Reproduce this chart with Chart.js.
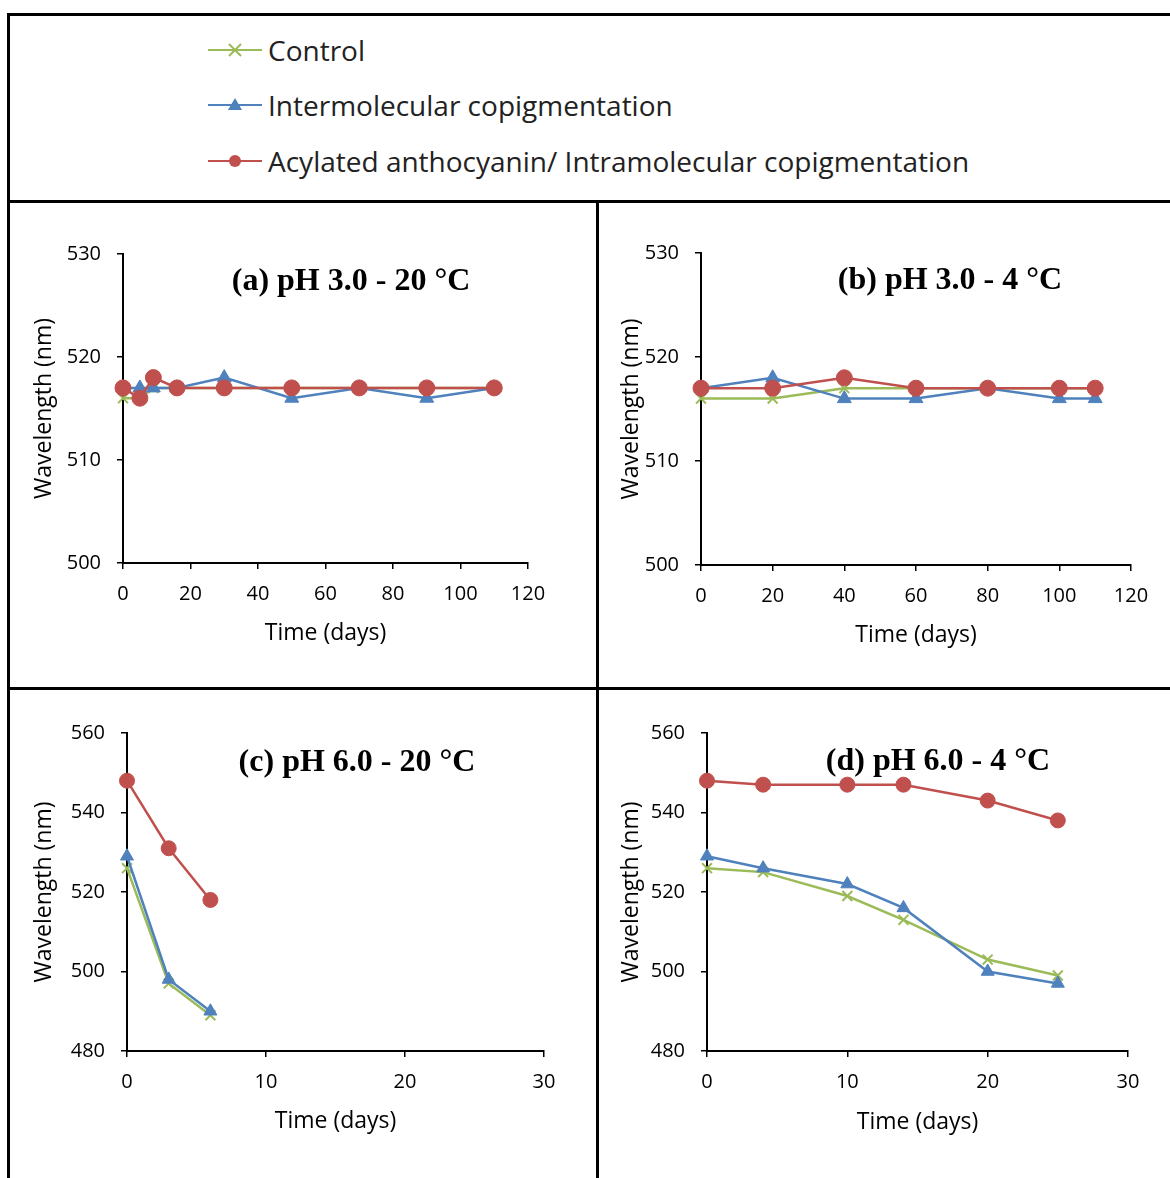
<!DOCTYPE html>
<html lang="en">
<head>
<meta charset="UTF-8">
<title>Wavelength vs time</title>
<script src="https://cdn.jsdelivr.net/npm/chart.js@4.4.1/dist/chart.umd.min.js"></script>
<style>
    body { margin: 0; background: #fff; width: 1170px; height: 1178px; overflow: hidden; position: relative; font-family: "Open Sans", sans-serif; }
    .line { position: absolute; background: #000; }
    .panel { position: absolute; }
    .legend-row { position: absolute; left: 208px; height: 40px; display: flex; align-items: center; font-size: 28px; color: #222; white-space: nowrap; }
    .legend-row svg { margin-right: 4px; }
</style>
</head>
<body>

<!-- frame lines -->
<div class="line" style="left:8px; top:13px; width:1162px; height:3px;"></div>
<div class="line" style="left:8px; top:200px; width:1162px; height:3px;"></div>
<div class="line" style="left:7px; top:13px; width:3px; height:1165px;"></div>
<div class="line" style="left:596px; top:200px; width:3px; height:978px;"></div>
<div class="line" style="left:8px; top:687px; width:1162px; height:3px;"></div>

<!-- legend -->
<div class="legend-row" style="top:30px;">
    <svg width="56" height="20"><line x1="0" y1="10" x2="54" y2="10" stroke="#9BBB59" stroke-width="2"/>
        <path d="M21 4 L33 16 M33 4 L21 16" stroke="#9BBB59" stroke-width="2"/></svg>Control
</div>
<div class="legend-row" style="top:85px;">
    <svg width="56" height="20"><line x1="0" y1="10" x2="54" y2="10" stroke="#4F81BD" stroke-width="2"/>
        <path d="M27 3 L34 15 L20 15 Z" fill="#4F81BD"/></svg>Intermolecular copigmentation
</div>
<div class="legend-row" style="top:141px;">
    <svg width="56" height="20"><line x1="0" y1="10" x2="54" y2="10" stroke="#C0504D" stroke-width="2"/>
        <circle cx="27" cy="10" r="6" fill="#C0504D"/></svg>Acylated anthocyanin/ Intramolecular copigmentation
</div>

<div class="panel" style="left:10px; top:203px;"><canvas id="chartA" width="586" height="485"></canvas></div>
<div class="panel" style="left:599px; top:203px;"><canvas id="chartB" width="571" height="485"></canvas></div>
<div class="panel" style="left:10px; top:690px;"><canvas id="chartC" width="586" height="488"></canvas></div>
<div class="panel" style="left:599px; top:690px;"><canvas id="chartD" width="571" height="488"></canvas></div>

<script>
    // (a) pH 3.0 - 20 °C
    var a_days = [0, 5, 9, 16, 30, 50, 70, 90, 110];
    var a_control = [516, 516, 517, 517, 517, 517, 517, 517, 517];
    var a_inter = [517, 517, 517, 517, 518, 516, 517, 516, 517];
    var a_acyl = [517, 516, 518, 517, 517, 517, 517, 517, 517];

    // (b) pH 3.0 - 4 °C
    var b_days = [0, 20, 40, 60, 80, 100, 110];
    var b_control = [516, 516, 517, 517, 517, 517, 517];
    var b_inter = [517, 518, 516, 516, 517, 516, 516];
    var b_acyl = [517, 517, 518, 517, 517, 517, 517];

    // (c) pH 6.0 - 20 °C
    var c_days = [0, 3, 6];
    var c_control = [526, 497, 489];
    var c_inter = [529, 498, 490];
    var c_acyl = [548, 531, 518];

    // (d) pH 6.0 - 4 °C
    var d_days = [0, 4, 10, 14, 20, 25];
    var d_control = [526, 525, 519, 513, 503, 499];
    var d_inter = [529, 526, 522, 516, 500, 497];
    var d_acyl = [548, 547, 547, 547, 543, 538];

    var green = '#9BBB59';
    var blue = '#4F81BD';
    var red = '#C0504D';

    function pts(xs, ys) {
        return xs.map(function (x, i) { return { x: x, y: ys[i] }; });
    }

    // draws the panel heading inside the plot
    var panelTitle = {
        id: 'panelTitle',
        afterDraw: function (chart, args, opts) {
            var ctx = chart.ctx;
            ctx.save();
            ctx.font = 'bold 32px "Liberation Serif", "Times New Roman", serif';
            ctx.fillStyle = '#000';
            ctx.textAlign = 'center';
            ctx.textBaseline = 'middle';
            ctx.fillText(opts.text, opts.x, opts.y);
            ctx.restore();
        }
    };

    function desenhar(id, p) {
        var canvas = document.getElementById(id);
        var w = canvas.width, h = canvas.height;
        var axisFont = { family: '"Open Sans", sans-serif', size: 23 };
        var tickFont = { family: '"Open Sans", sans-serif', size: 20 };

        new Chart(canvas, {
            type: 'line',
            data: {
                datasets: [
                    { label: 'Control', data: pts(p.days, p.control), borderColor: green, backgroundColor: green,
                      pointStyle: 'crossRot', pointRadius: 7, pointBorderWidth: 2, borderWidth: 2.5, order: 3, clip: false },
                    { label: 'Intermolecular copigmentation', data: pts(p.days, p.inter), borderColor: blue, backgroundColor: blue,
                      pointStyle: 'triangle', pointRadius: p.mark, pointBorderWidth: 1, borderWidth: 2.5, order: 2, clip: false },
                    { label: 'Acylated anthocyanin/ Intramolecular copigmentation', data: pts(p.days, p.acyl), borderColor: red, backgroundColor: red,
                      pointStyle: 'circle', pointRadius: p.mark, pointBorderWidth: 1, borderWidth: 2.5, order: 1, clip: false }
                ]
            },
            options: {
                responsive: false,
                animation: false,
                layout: { padding: { left: 0, top: p.plot.top, right: w - p.plot.right, bottom: 0 } },
                plugins: {
                    legend: { display: false },
                    tooltip: { enabled: false },
                    panelTitle: { text: p.title, x: p.titleX, y: p.titleY }
                },
                scales: {
                    x: {
                        type: 'linear', min: 0, max: p.xMax,
                        ticks: { stepSize: p.xStep, color: '#000', font: tickFont, padding: 13, maxRotation: 0 },
                        grid: { drawOnChartArea: false, drawTicks: true, tickLength: 6, color: '#000', lineWidth: 1.5 },
                        border: { color: '#000', width: 2 },
                        title: { display: true, text: 'Time (days)', color: '#000', font: axisFont, padding: { top: 0, bottom: p.xTitlePad } },
                        afterFit: function (s) { s.height = h - p.plot.bottom; }
                    },
                    y: {
                        min: p.yMin, max: p.yMax,
                        ticks: { stepSize: p.yStep, color: '#000', font: tickFont, padding: 16 },
                        grid: { drawOnChartArea: false, drawTicks: true, tickLength: 6, color: '#000', lineWidth: 1.5 },
                        border: { color: '#000', width: 2 },
                        title: { display: true, text: 'Wavelength (nm)', color: '#000', font: axisFont, padding: { top: p.yTitlePad, bottom: 0 } },
                        afterFit: function (s) { s.width = p.plot.left; }
                    }
                }
            },
            plugins: [panelTitle]
        });
    }

    desenhar('chartA', {
        days: a_days, control: a_control, inter: a_inter, acyl: a_acyl,
        xMax: 120, xStep: 20, yMin: 500, yMax: 530, yStep: 10,
        plot: { left: 113, right: 518, top: 51, bottom: 360 },
        xTitlePad: 41, yTitlePad: 21, mark: 8,
        title: '(a) pH 3.0 - 20 °C', titleX: 341, titleY: 79
    });
    desenhar('chartB', {
        days: b_days, control: b_control, inter: b_inter, acyl: b_acyl,
        xMax: 120, xStep: 20, yMin: 500, yMax: 530, yStep: 10,
        plot: { left: 102, right: 532, top: 50, bottom: 362 },
        xTitlePad: 39, yTitlePad: 19, mark: 8,
        title: '(b) pH 3.0 - 4 °C', titleX: 351, titleY: 78
    });
    desenhar('chartC', {
        days: c_days, control: c_control, inter: c_inter, acyl: c_acyl,
        xMax: 30, xStep: 10, yMin: 480, yMax: 560, yStep: 20,
        plot: { left: 117, right: 534, top: 43, bottom: 361 },
        xTitlePad: 43, yTitlePad: 21, mark: 7.5,
        title: '(c) pH 6.0 - 20 °C', titleX: 347, titleY: 73
    });
    desenhar('chartD', {
        days: d_days, control: d_control, inter: d_inter, acyl: d_acyl,
        xMax: 30, xStep: 10, yMin: 480, yMax: 560, yStep: 20,
        plot: { left: 108, right: 529, top: 43, bottom: 361 },
        xTitlePad: 42, yTitlePad: 19, mark: 7.5,
        title: '(d) pH 6.0 - 4 °C', titleX: 339, titleY: 72
    });
</script>
</body>
</html>
